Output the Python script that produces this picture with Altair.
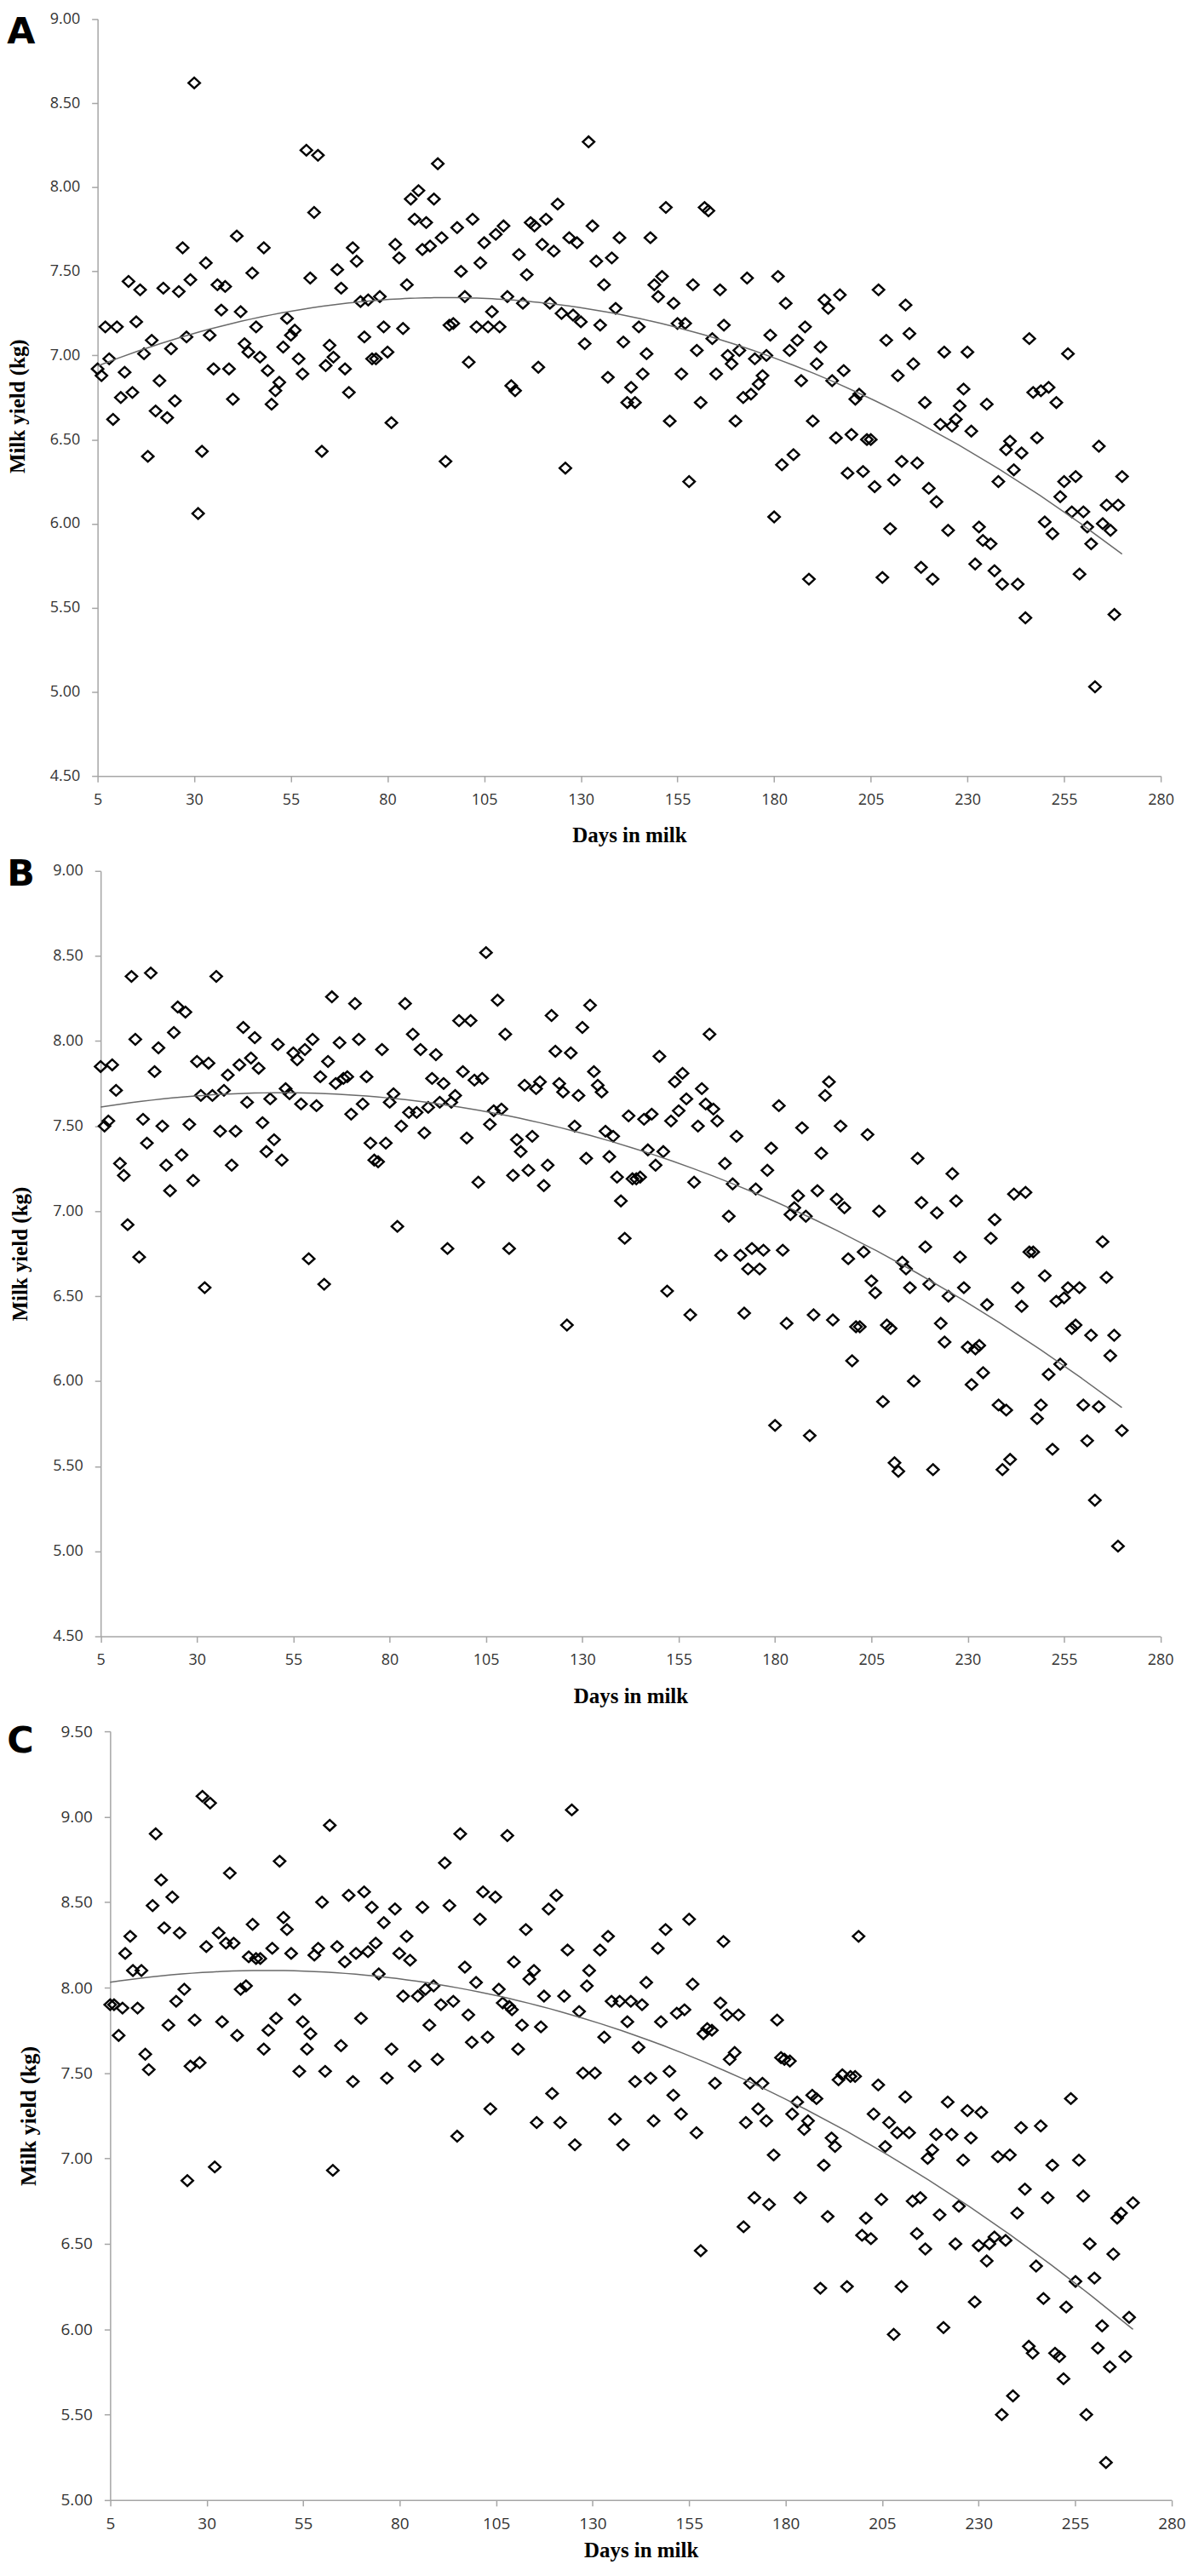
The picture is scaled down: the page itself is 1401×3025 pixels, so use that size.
import altair as alt
import pandas as pd

# ---------------- data ----------------
X_TICKS = [5, 30, 55, 80, 105, 130, 155, 180, 205, 230, 255, 280]
Y_TICKS_AB = [4.5, 5.0, 5.5, 6.0, 6.5, 7.0, 7.5, 8.0, 8.5, 9.0]
Y_TICKS_C = [5.0, 5.5, 6.0, 6.5, 7.0, 7.5, 8.0, 8.5, 9.0, 9.5]

A_DAY = list(range(5, 271))
A_MILK = [
    6.92, 6.88, 7.17, 6.98, 6.62, 7.17, 6.75, 6.90, 7.44, 6.78,
    7.20, 7.39, 7.01, 6.40, 7.09, 6.67, 6.85, 7.40, 6.63, 7.04,
    6.73, 7.38, 7.64, 7.11, 7.45, 8.62, 6.06, 6.43, 7.55, 7.12,
    6.92, 7.42, 7.27, 7.41, 6.92, 6.74, 7.71, 7.26, 7.07, 7.02,
    7.49, 7.17, 6.99, 7.64, 6.91, 6.71, 6.79, 6.84, 7.05, 7.22,
    7.12, 7.15, 6.98, 6.89, 8.22, 7.46, 7.85, 8.19, 6.43, 6.94,
    7.06, 6.99, 7.51, 7.40, 6.92, 6.78, 7.64, 7.56, 7.32, 7.11,
    7.33, 6.98, 6.98, 7.35, 7.17, 7.02, 6.60, 7.66, 7.58, 7.16,
    7.42, 7.93, 7.81, 7.98, 7.63, 7.79, 7.65, 7.93, 8.14, 7.70,
    6.37, 7.18, 7.19, 7.76, 7.50, 7.35, 6.96, 7.81, 7.17, 7.55,
    7.67, 7.17, 7.26, 7.72, 7.17, 7.77, 7.35, 6.82, 6.79, 7.60,
    7.31, 7.48, 7.79, 7.77, 6.93, 7.66, 7.81, 7.31, 7.62, 7.90,
    7.25, 6.33, 7.70, 7.24, 7.67, 7.20, 7.07, 8.27, 7.77, 7.56,
    7.18, 7.42, 6.87, 7.58, 7.28, 7.70, 7.08, 6.72, 6.81, 6.72,
    7.17, 6.89, 7.01, 7.70, 7.42, 7.35, 7.47, 7.88, 6.61, 7.31,
    7.19, 6.89, 7.19, 6.25, 7.42, 7.03, 6.72, 7.88, 7.86, 7.10,
    6.89, 7.39, 7.18, 7.00, 6.95, 6.61, 7.03, 6.75, 7.46, 6.77,
    6.98, 6.83, 6.88, 7.00, 7.12, 6.04, 7.47, 6.35, 7.31, 7.03,
    6.41, 7.09, 6.85, 7.17, 5.67, 6.61, 6.95, 7.05, 7.33, 7.28,
    6.85, 6.51, 7.36, 6.91, 6.30, 6.53, 6.74, 6.77, 6.31, 6.50,
    6.50, 6.22, 7.39, 5.68, 7.09, 5.97, 6.26, 6.88, 6.37, 7.30,
    7.13, 6.95, 6.36, 5.74, 6.72, 6.21, 5.67, 6.13, 6.59, 7.02,
    5.96, 6.58, 6.62, 6.70, 6.80, 7.02, 6.55, 5.76, 5.98, 5.90,
    6.71, 5.88, 5.72, 6.25, 5.64, 6.44, 6.49, 6.32, 5.64, 6.42,
    5.44, 7.10, 6.78, 6.51, 6.79, 6.01, 6.81, 5.94, 6.72, 6.16,
    6.25, 7.01, 6.07, 6.28, 5.70, 6.07, 5.98, 5.88, 5.03, 6.46,
    6.00, 6.11, 5.96, 5.46, 6.11, 6.28,
]

B_DAY = list(range(5, 271))
B_MILK = [
    7.85, 7.50, 7.53, 7.86, 7.71, 7.28, 7.21, 6.92, 8.38, 8.01,
    6.73, 7.54, 7.40, 8.40, 7.82, 7.96, 7.50, 7.27, 7.12, 8.05,
    8.20, 7.33, 8.17, 7.51, 7.18, 7.88, 7.68, 6.55, 7.87, 7.68,
    8.38, 7.47, 7.71, 7.80, 7.27, 7.47, 7.86, 8.08, 7.64, 7.90,
    8.02, 7.84, 7.52, 7.35, 7.66, 7.42, 7.98, 7.30, 7.72, 7.69,
    7.93, 7.89, 7.63, 7.95, 6.72, 8.01, 7.62, 7.79, 6.57, 7.88,
    8.26, 7.75, 7.99, 7.78, 7.79, 7.57, 8.22, 8.01, 7.63, 7.79,
    7.40, 7.30, 7.29, 7.95, 7.40, 7.64, 7.69, 6.91, 7.50, 8.22,
    7.58, 8.04, 7.58, 7.95, 7.46, 7.61, 7.78, 7.92, 7.64, 7.75,
    6.78, 7.64, 7.68, 8.12, 7.82, 7.43, 8.12, 7.77, 7.17, 7.78,
    8.52, 7.51, 7.59, 8.24, 7.60, 8.04, 6.78, 7.21, 7.42, 7.35,
    7.74, 7.24, 7.44, 7.72, 7.76, 7.15, 7.27, 8.15, 7.94, 7.75,
    7.70, 6.33, 7.93, 7.50, 7.68, 8.08, 7.31, 8.21, 7.82, 7.74,
    7.70, 7.47, 7.32, 7.44, 7.20, 7.06, 6.84, 7.56, 7.19, 7.19,
    7.20, 7.54, 7.36, 7.57, 7.27, 7.91, 7.35, 6.53, 7.53, 7.76,
    7.59, 7.81, 7.66, 6.39, 7.17, 7.50, 7.72, 7.63, 8.04, 7.60,
    7.53, 6.74, 7.28, 6.97, 7.16, 7.44, 6.74, 6.40, 6.66, 6.78,
    7.13, 6.66, 6.77, 7.24, 7.37, 5.74, 7.62, 6.77, 6.34, 6.98,
    7.02, 7.09, 7.49, 6.97, 5.68, 6.39, 7.12, 7.34, 7.68, 7.76,
    6.36, 7.07, 7.50, 7.02, 6.72, 6.12, 6.32, 6.32, 6.76, 7.45,
    6.59, 6.52, 7.00, 5.88, 6.33, 6.31, 5.52, 5.47, 6.70, 6.66,
    6.55, 6.00, 7.31, 7.05, 6.79, 6.57, 5.48, 6.99, 6.34, 6.23,
    6.50, 7.22, 7.06, 6.73, 6.55, 6.20, 5.98, 6.19, 6.21, 6.05,
    6.45, 6.84, 6.95, 5.86, 5.48, 5.83, 5.54, 7.10, 6.55, 6.44,
    7.11, 6.76, 6.76, 5.78, 5.86, 6.62, 6.04, 5.60, 6.47, 6.10,
    6.49, 6.55, 6.31, 6.33, 6.55, 5.86, 5.65, 6.27, 5.30, 5.85,
    6.82, 6.61, 6.15, 6.27, 5.03, 5.71,
]

C_DAY = [
    5.0, 6.0, 7.2, 8.2, 8.9, 10.2, 10.9, 12.1, 13.1, 14.1,
    15.0, 16.0, 16.8, 18.2, 19.0, 20.1, 21.1, 22.1, 23.0, 24.2,
    25.0, 25.8, 26.9, 28.2, 28.9, 29.9, 30.9, 32.1, 33.1, 34.0,
    35.0, 36.0, 37.0, 37.9, 38.8, 40.2, 40.9, 41.9, 42.8, 43.9,
    44.8, 46.0, 47.0, 48.0, 48.9, 49.9, 50.8, 51.9, 52.8, 54.0,
    54.9, 56.0, 56.9, 57.9, 58.9, 59.9, 60.7, 61.9, 62.7, 63.8,
    64.8, 65.8, 66.8, 67.9, 68.7, 70.0, 70.8, 71.8, 72.8, 73.8,
    74.6, 75.9, 76.7, 77.9, 78.8, 79.9, 80.9, 81.8, 82.7, 83.9,
    84.7, 85.9, 86.7, 87.7, 88.8, 89.8, 90.7, 91.7, 92.9, 93.9,
    94.9, 95.7, 96.9, 97.8, 98.7, 99.8, 100.8, 101.6, 102.8, 103.5,
    104.8, 105.7, 106.7, 107.9, 108.4, 109.1, 109.6, 110.7, 111.7, 112.7,
    113.6, 114.8, 115.5, 116.6, 117.4, 118.6, 119.5, 120.6, 121.6, 122.6,
    123.5, 124.6, 125.4, 126.5, 127.5, 128.5, 129.1, 130.6,
    131.9, 133.0, 134.0, 134.9, 135.8, 137.0, 137.9, 139.0, 139.9, 141.0,
    141.9, 142.8, 143.9, 145.0, 145.8, 146.9, 147.7, 148.9, 149.9, 150.9,
    151.8, 152.9, 153.8, 155.0, 155.9, 156.9, 158.0, 158.7, 159.7, 160.9,
    161.7, 163.1, 163.9, 164.8, 165.5, 166.8, 167.8, 169.1, 169.7, 170.8,
    171.9, 172.9, 174.0, 175.0, 175.7, 176.9, 177.8, 178.8, 179.7, 181.1,
    181.7, 183.0, 183.8, 184.8, 185.8, 186.9, 188.0, 189.0, 189.9, 190.9,
    191.9, 192.8, 193.7, 194.7, 195.9, 196.8, 198.0, 198.9, 199.8, 200.8,
    202.1, 202.8, 204.0, 204.8, 205.8, 206.8, 208.0, 208.9, 210.0, 211.0,
    212.0, 212.9, 214.0, 214.9, 216.2, 216.8, 218.0, 219.0, 219.9, 220.9,
    222.0, 223.0, 224.0, 224.9, 226.0, 227.1, 228.0, 229.0, 230.0, 230.7,
    232.1, 232.8, 234.1, 235.0, 236.0, 237.0, 238.1, 238.9, 240.0, 241.0,
    242.0, 243.0, 244.0, 244.9, 246.1, 246.8, 247.9, 249.1, 249.8, 250.9,
    252.0, 252.7, 253.9, 255.1, 256.0, 257.1, 257.9, 258.8, 260.0, 260.9,
    262.0, 263.0, 264.0, 264.9, 265.9, 266.9, 268.0, 269.0, 270.0,
]
C_MILK = [
    7.90, 7.90, 7.72, 7.88, 8.20, 8.30, 8.10, 7.88, 8.10, 7.61,
    7.52, 8.48, 8.90, 8.63, 8.35, 7.78, 8.53, 7.92, 8.32, 7.99,
    6.87, 7.54, 7.81, 7.56, 9.12, 8.24, 9.08, 6.95, 8.32, 7.80,
    8.26, 8.67, 8.26, 7.72, 7.99, 8.01, 8.18, 8.37, 8.17, 8.17,
    7.64, 7.75, 8.23, 7.82, 8.74, 8.41, 8.34, 8.20, 7.93, 7.51,
    7.80, 7.64, 7.73, 8.19, 8.23, 8.50, 7.51, 8.95, 6.93, 8.24,
    7.66, 8.15, 8.54, 7.45, 8.20, 7.82, 8.56, 8.21, 8.47, 8.26,
    8.08, 8.38, 7.47, 7.64, 8.46, 8.20, 7.95, 8.30, 8.16, 7.54,
    7.95, 8.47, 7.99, 7.78, 8.01, 7.58, 7.90, 8.73, 8.48, 7.92,
    7.13, 8.90, 8.12, 7.84, 7.68, 8.03, 8.40, 8.56, 7.71, 7.29,
    8.53, 7.99, 7.91, 8.89, 7.89, 7.87, 8.15, 7.64, 7.78, 8.34,
    8.05, 8.10, 7.21, 7.77, 7.95, 8.46, 7.38, 8.54, 7.21, 7.95,
    8.22, 9.04, 7.08, 7.86, 7.50, 8.01, 8.10, 7.50,
    8.22, 7.71, 8.30, 7.92, 7.23, 7.92, 7.08, 7.80, 7.92, 7.45,
    7.65, 7.90, 8.03, 7.47, 7.22, 8.23, 7.80, 8.34, 7.51, 7.37,
    7.85, 7.26, 7.87, 8.40, 8.02, 7.15, 6.46, 7.73, 7.76, 7.75,
    7.44, 7.91, 8.27, 7.84, 7.58, 7.62, 7.84, 6.60, 7.21, 7.44,
    6.77, 7.29, 7.44, 7.22, 6.73, 7.02, 7.81, 7.59, 7.58, 7.57,
    7.26, 7.33, 6.77, 7.17, 7.22, 7.37, 7.35, 6.24, 6.96, 6.66,
    7.12, 7.07, 7.46, 7.49, 6.25, 7.48, 7.48, 8.30, 6.55, 6.65,
    6.53, 7.26, 7.43, 6.76, 7.07, 7.21, 5.97, 7.15, 6.25, 7.36,
    7.15, 6.75, 6.56, 6.77, 6.47, 7.00, 7.05, 7.14, 6.67, 6.01,
    7.33, 7.14, 6.50, 6.72, 6.99, 7.28, 7.12, 6.16, 6.49, 7.27,
    6.40, 6.50, 6.54, 7.01, 5.50, 6.52, 7.02, 5.61, 6.68, 7.18,
    6.82, 5.90, 5.86, 6.37, 7.19, 6.18, 6.77, 6.96, 5.86, 5.84,
    5.71, 6.13, 7.35, 6.28, 6.99, 6.78, 5.50, 6.50, 6.30, 5.89,
    6.02, 5.22, 5.78, 6.44, 6.65, 6.68, 5.84, 6.07, 6.74,
]

DIAMOND = "M-1,0L0,-0.93L1,0L0,0.93Z"


def panel(letter, days, milk, ydom, yticks, w, h, shift, lab_size, tit_size,
          letter_y, ytitle_pad, xtitle_pad, ytitle_y):
    df = pd.DataFrame({"day": days, "milk": milk})
    xenc = alt.X(
        "day:Q",
        scale=alt.Scale(domain=[5, 280], nice=False, zero=False,
                        range=[shift, shift + w]),
        axis=alt.Axis(values=X_TICKS, format="d", title="Days in milk",
                      labelFontSize=lab_size, titleFontSize=25,
                      labelPadding=12, tickSize=7, titlePadding=xtitle_pad,
                      labelFlush=False, labelOverlap=False),
    )
    yenc = alt.Y(
        "milk:Q",
        scale=alt.Scale(domain=ydom, nice=False, zero=False),
        axis=alt.Axis(values=yticks, format=".2f", title="Milk yield (kg)",
                      labelFontSize=lab_size, titleFontSize=tit_size,
                      labelPadding=14, tickSize=7, titlePadding=ytitle_pad,
                      titleY=ytitle_y,
                      offset=-shift, labelFlush=False, labelOverlap=False),
    )
    pts = alt.Chart(df).mark_point(
        shape=DIAMOND, filled=False, color="#000000", size=185,
        strokeWidth=2.4, opacity=1,
    ).encode(x=xenc, y=yenc)
    trend = alt.Chart(df).transform_regression(
        "day", "milk", method="poly", order=2
    ).mark_line(color="#6a6a6a", strokeWidth=1.5).encode(x=xenc, y=yenc)
    tag = alt.Chart(pd.DataFrame({"t": [letter]})).mark_text(
        align="left", baseline="alphabetic", font="DejaVu Sans",
        fontWeight="bold", fontSize=43, color="#000000",
    ).encode(x=alt.value(-106.7), y=alt.value(letter_y), text="t:N")
    return alt.layer(pts, trend, tag).properties(width=w + shift, height=h)


pA = panel("A", A_DAY, A_MILK, [4.5, 9.0], Y_TICKS_AB, 1253, 892, 0,
           18, 25, 29, 25, 21, 456)
pB = panel("B", B_DAY, B_MILK, [4.5, 9.0], Y_TICKS_AB, 1249, 902, 3.6,
           18, 25, 17, 25, 21, 451)
pC = panel("C", C_DAY, C_MILK, [5.0, 9.5], Y_TICKS_C, 1251, 906, 14.8,
           19, 26, 25, 25, 9, 453)

chart = alt.vconcat(pA, pB, pC, spacing=112, bounds="flush").properties(
    padding={"left": 0, "top": 0, "right": 0, "bottom": 0},
    background="#ffffff",
).configure_view(stroke=None).configure_axis(
    grid=False,
    domainColor="#a6a6a6",
    domainWidth=1.5,
    tickColor="#a6a6a6",
    tickWidth=1.5,
    labelColor="#333333",
    labelFont="Open Sans",
    titleFont="Liberation Serif",
    titleFontWeight="bold",
    titleColor="#000000",
)

chart.save("out.html", embed_options={"renderer": "svg", "actions": False})
